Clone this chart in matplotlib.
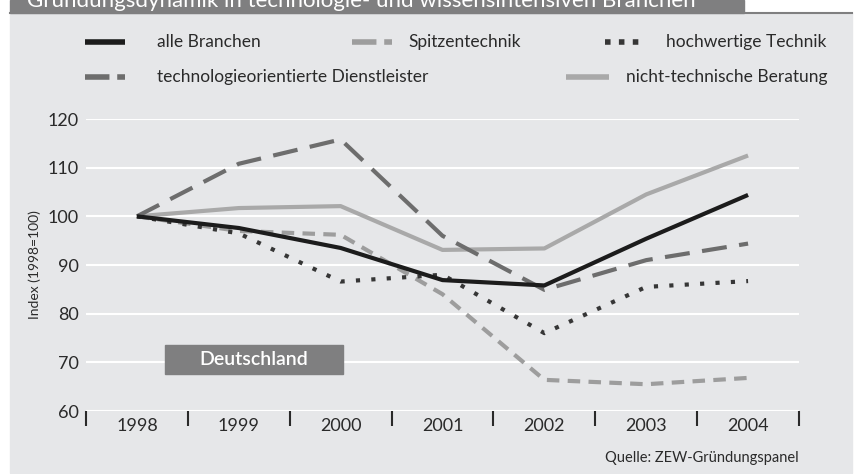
"""
plot.py - Gründungsdynamik in technologie- und wissensintensiven Branchen
"""

import matplotlib
matplotlib.use("Agg")
import matplotlib.pyplot as plt
from matplotlib.lines import Line2D
from matplotlib.patches import Rectangle

plt.rcParams['font.family'] = ['Lato', 'DejaVu Sans']

# Data (index, 1998 = 100)
years = ['1998', '1999', '2000', '2001', '2002', '2003', '2004']
alle_branchen = [100, 97.6, 93.5, 86.9, 85.8, 95.4, 104.4]
spitzentechnik = [100, 97.0, 96.2, 84.0, 66.4, 65.5, 66.8]
hochwertige_technik = [100, 96.5, 86.6, 88.0, 76.0, 85.5, 86.7]
dienstleister = [100, 110.8, 115.8, 96.0, 84.9, 91.0, 94.4]
beratung = [100, 101.7, 102.1, 93.1, 93.4, 104.5, 112.5]

labels = ['alle Branchen', 'Spitzentechnik', 'hochwertige Technik',
          'technologieorientierte Dienstleister', 'nicht-technische Beratung']
title = 'Gründungsdynamik in technologie- und wissensintensiven Branchen'

W, H = 855, 474
PANEL = '#e6e7e9'
DARK = '#7f7f80'


def fx(px):
    return px / W


def fy(py):
    return 1 - py / H


fig = plt.figure(figsize=(W / 100, H / 100), dpi=100)

# background panel, title banner (title is cut at the top edge, as in the original)
fig.patches.append(Rectangle((fx(10), fy(473)), fx(842), (473 - 13) / H,
                             transform=fig.transFigure, color=PANEL, zorder=0))
fig.patches.append(Rectangle((fx(10), fy(13)), fx(734), 13 / H,
                             transform=fig.transFigure, color=DARK, zorder=1))
fig.add_artist(Line2D([fx(10), fx(852)], [fy(12.5), fy(12.5)], color=DARK, lw=1.5))
fig.text(fx(27), fy(7), title, color='white', fontsize=16, va='baseline', ha='left')

ax = fig.add_axes([fx(86), fy(411), fx(799 - 86), (411 - 119) / H])
ax.set_zorder(2)
ax.patch.set_visible(False)

styles = [
    dict(color='#1c1c1c', lw=3.0, ls='-'),
    dict(color='#9d9d9d', lw=3.0, ls=(0, (3, 2))),
    dict(color='#363636', lw=3.0, ls=(0, (1, 2.7))),
    dict(color='#6d6d6d', lw=3.0, ls=(0, (6, 3))),
    dict(color='#a9a9a9', lw=3.0, ls='-'),
]
# shorter patterns for the legend keys
legend_ls = ['-', (0, (4.4, 1.4)), (0, (1, 1.5)), (0, (4.4, 1.4)), '-']

series = [alle_branchen, spitzentechnik, hochwertige_technik, dienstleister, beratung]
order = [4, 3, 1, 2, 0]
x = list(range(len(years)))
for i in order:
    ax.plot(x, series[i], zorder=3 + (i == 0), solid_capstyle='butt',
            dash_capstyle='butt', **styles[i])

ax.set_xlim(-0.5, len(years) - 0.5)
ax.set_ylim(60, 120)
ax.set_yticks(range(60, 121, 10))
ax.set_xticks(x)
ax.set_xticklabels(years)
ax.set_xticks([i - 0.5 for i in range(len(years) + 1)], minor=True)
ax.tick_params(axis='x', which='major', length=0, pad=5, labelsize=13, labelcolor='#2a2a2a')
ax.tick_params(axis='x', which='minor', length=11, width=1.5, color='#2a2a2a', direction='out')
ax.tick_params(axis='y', length=0, pad=5, labelsize=13, labelcolor='#2a2a2a')
ax.grid(axis='y', color='white', lw=1.5, zorder=1)
ax.set_axisbelow(True)
for s in ax.spines.values():
    s.set_visible(False)

ax.set_ylabel('Index (1998=100)', fontsize=10, color='#2a2a2a', labelpad=5)

# Deutschland label
fig.patches.append(Rectangle((fx(165), fy(374)), fx(178), 29 / H,
                             transform=fig.transFigure, color=DARK, zorder=3))
fig.text(fx(254), fy(359.5), 'Deutschland', color='white', fontsize=14,
         fontweight='semibold', ha='center', va='center', zorder=4)

# legend
legend_pos = [(85, 125, 157, 42), (352, 392, 408, 42), (605, 640, 666, 42),
              (85, 125, 157, 77), (566, 609, 626, 77)]
for (x0, x1, tx, ty), lab, st, lls in zip(legend_pos, labels, styles, legend_ls):
    fig.add_artist(Line2D([fx(x0), fx(x1)], [fy(ty), fy(ty)], color=st['color'],
                          lw=4, ls=lls, solid_capstyle='butt', dash_capstyle='butt'))
    fig.text(fx(tx), fy(ty), lab, fontsize=12.5, color='#2a2a2a', va='center', ha='left')

fig.text(fx(799), fy(458), 'Quelle: ZEW-Gründungspanel', fontsize=10.5,
         color='#2a2a2a', ha='right', va='center')

fig.savefig('out.png', dpi=100)
